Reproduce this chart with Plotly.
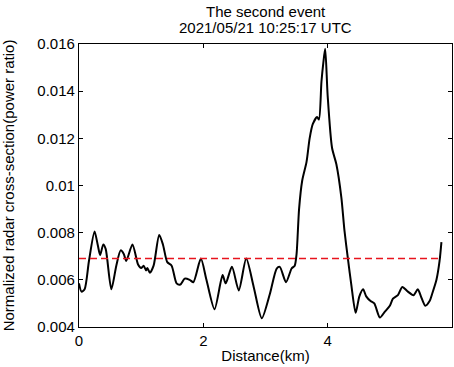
import plotly.graph_objects as go

# Distance along the track (km) and normalized RCS (power ratio)
distance_km = [
    0.00, 0.04, 0.09, 0.16, 0.25, 0.30, 0.34, 0.39, 0.43, 0.52,
    0.60, 0.67, 0.72, 0.76, 0.86, 0.95, 1.00, 1.04, 1.08, 1.10,
    1.14, 1.20, 1.29, 1.35, 1.42, 1.49, 1.57, 1.63, 1.70, 1.78,
    1.84, 1.96, 2.05, 2.18, 2.31, 2.36, 2.46, 2.57, 2.69, 2.81,
    2.94, 3.07, 3.18, 3.23, 3.33, 3.42, 3.47, 3.50, 3.54, 3.59,
    3.66, 3.71, 3.76, 3.83, 3.86, 3.90, 3.93, 3.96, 4.00, 4.07,
    4.14, 4.22, 4.27, 4.33, 4.38, 4.45, 4.51, 4.57, 4.62, 4.69,
    4.75, 4.84, 4.92, 5.00, 5.05, 5.13, 5.20, 5.29, 5.38, 5.45,
    5.50, 5.57, 5.64, 5.68, 5.75, 5.80, 5.83,
]
rcs = [
    0.00585, 0.0055, 0.0056, 0.0068, 0.00805, 0.0075, 0.00705, 0.0075, 0.0073, 0.0056,
    0.0066, 0.00725, 0.0071, 0.0068, 0.0075, 0.00665, 0.0065, 0.0066, 0.0064, 0.0065,
    0.0063, 0.0066, 0.0079, 0.0075, 0.00675, 0.0066, 0.00585, 0.0058, 0.00605, 0.0060,
    0.0059, 0.0069, 0.0060, 0.00475, 0.0062, 0.00585, 0.00655, 0.00555, 0.0069, 0.0057,
    0.00437, 0.0054, 0.00648, 0.00655, 0.0059, 0.00648, 0.0066, 0.0071, 0.0090, 0.0102,
    0.0110, 0.0120, 0.0126, 0.0129, 0.0128, 0.0144, 0.0152, 0.0158, 0.0138, 0.0116,
    0.0109, 0.0095, 0.0081, 0.0068, 0.0058, 0.0046, 0.0053, 0.0056, 0.0053, 0.0051,
    0.0050, 0.0044, 0.00465, 0.0049, 0.0052, 0.00535, 0.0057, 0.0055, 0.00535, 0.0056,
    0.0053, 0.0049, 0.0051, 0.0054, 0.0060, 0.0068, 0.0076,
]

# Mean level drawn as a dashed reference line
mean_level = 0.0069
mean_span_km = [0.0, 5.83]

x_ticks = [0, 2, 4, 6]
y_ticks = [0.004, 0.006, 0.008, 0.010, 0.012, 0.014, 0.016]
y_tick_text = ["0.004", "0.006", "0.008", "0.01", "0.012", "0.014", "0.016"]

FONT = "Liberation Sans, Arial, sans-serif"

fig = go.Figure()
fig.add_trace(go.Scatter(
    x=distance_km, y=rcs, mode="lines",
    line=dict(color="black", width=2, shape="spline", smoothing=0.7),
    showlegend=False, hoverinfo="skip",
))
fig.add_trace(go.Scatter(
    x=mean_span_km, y=[mean_level, mean_level], mode="lines",
    line=dict(color="#e8141e", width=1.5, dash="7px,4px"),
    showlegend=False, hoverinfo="skip",
))

axis_common = dict(
    showgrid=False, zeroline=False, showline=True, linecolor="black",
    linewidth=1.2, mirror="ticks", ticks="inside", ticklen=4,
    tickcolor="black", tickwidth=1,
    tickfont=dict(family=FONT, size=15, color="black"),
)

fig.update_layout(
    width=454, height=367,
    margin=dict(l=79, r=2, t=44, b=40),
    paper_bgcolor="white", plot_bgcolor="white",
    font=dict(family=FONT, size=15, color="black"),
    xaxis=dict(
        range=[0, 6], tickvals=x_ticks, ticktext=[str(v) for v in x_ticks],
        title=dict(text="Distance(km)", standoff=2, font=dict(family=FONT, size=15)),
        **axis_common,
    ),
    yaxis=dict(
        range=[0.004, 0.016], tickvals=y_ticks, ticktext=y_tick_text,
        title=dict(text="Normalized radar cross-section(power ratio)", standoff=19,
                   font=dict(family=FONT, size=15)),
        **axis_common,
    ),
    annotations=[
        dict(text="The second event", x=0.5, xref="paper", y=1 + (44 - 11) / 283,
             yref="paper", showarrow=False, xanchor="center", yanchor="middle",
             font=dict(family=FONT, size=15)),
        dict(text="2021/05/21 10:25:17 UTC", x=0.5, xref="paper", y=1 + (44 - 27) / 283,
             yref="paper", showarrow=False, xanchor="center", yanchor="middle",
             font=dict(family=FONT, size=15)),
    ],
)

fig.write_html("out.html")
